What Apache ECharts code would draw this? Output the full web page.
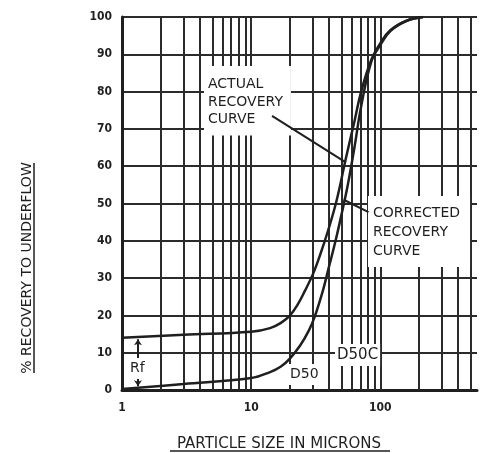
<!DOCTYPE html>
<html>
<head>
<meta charset="utf-8">
<script src="https://cdn.jsdelivr.net/npm/echarts@6/dist/echarts.min.js"></script>
<style>
  html, body { margin: 0; background: #fff; }
  #chart { width: 480px; height: 453px; }
</style>
</head>
<body>
<div id="chart"></div>
<script>
// 曲线数据
const actualX = [1, 3, 10, 14, 17, 20, 23, 26, 30, 34, 40, 46, 54, 63, 71, 85, 100, 120, 160, 214];
const actualY = [14, 14.8, 15.6, 16.6, 18, 20, 23, 26.5, 31, 36, 43.5, 51, 62, 72, 80, 88.5, 93, 96.5, 99, 100];

const correctedX = [1, 3, 10, 14, 17, 20, 24, 28, 31, 36, 40, 45, 50, 56, 63, 71, 85, 100, 120, 160, 214];
const correctedY = [0.3, 1.6, 3.2, 4.8, 6.3, 8.5, 12, 16, 19.6, 26.8, 33, 40, 47, 55, 65, 76, 88, 92.5, 96.3, 99, 100];

// 对数坐标纸的竖线
const xGridValues = [2, 3, 4, 5, 6, 7, 8, 9, 10, 20, 30, 40, 50, 60, 70, 80, 90, 100, 200, 300, 400, 500];
const xLabelValues = [1, 10, 100];

// 引线（数据坐标）
const actualLeader = [[14.5, 73.5], [54, 61]];
const correctedLeader = [[52, 51], [81, 47.7]];
const rfArrow = [[1.33, 13.6], [1.33, 1]];

const ink = '#1f1f1f';
const gridInk = '#2b2b2b';
const labelFont = '"DejaVu Sans Condensed", "DejaVu Sans", sans-serif';
const noteFont = '"DejaVu Sans", sans-serif';

const zip = (xs, ys) => xs.map((x, i) => [x, ys[i]]);

const chart = echarts.init(document.getElementById('chart'));

const noteText = (text, x, y, size, pad, lh, z) => ({
  type: 'text',
  x: x,
  y: y,
  z: z || 20,
  style: {
    text: text,
    font: size + 'px ' + noteFont,
    fill: ink,
    lineHeight: lh || size + 3,
    backgroundColor: '#fff',
    padding: pad
  }
});

const option = {
  animation: false,
  backgroundColor: '#fff',
  grid: { left: 122, top: 17, right: 0, bottom: 63 },
  xAxis: {
    type: 'log',
    logBase: 10,
    min: 1,
    max: 560,
    axisLine: { show: true, onZero: false, lineStyle: { color: ink, width: 3 } },
    axisTick: { show: false },
    splitLine: { show: false },
    axisLabel: {
      margin: 12,
      color: ink,
      fontSize: 12,
      fontWeight: 'bold',
      fontFamily: labelFont,
      formatter: (v) => {
        const r = Math.round(v);
        return xLabelValues.includes(r) ? String(r) : '';
      }
    }
  },
  yAxis: {
    type: 'value',
    min: 0,
    max: 100,
    interval: 10,
    axisLine: { show: true, lineStyle: { color: ink, width: 3 } },
    axisTick: { show: false },
    splitLine: { lineStyle: { color: gridInk, width: 2 } },
    axisLabel: {
      margin: 10,
      color: ink,
      fontSize: 12,
      fontWeight: 'bold',
      fontFamily: labelFont
    }
  },
  series: [
    {
      name: 'Actual',
      type: 'line',
      data: zip(actualX, actualY),
      showSymbol: false,
      smooth: 0.4,
      z: 3,
      lineStyle: { color: ink, width: 2.5 },
      markLine: {
        silent: true,
        symbol: 'none',
        z: 1,
        label: { show: false },
        lineStyle: { color: gridInk, width: 2, type: 'solid' },
        data: xGridValues.map((v) => ({ xAxis: v }))
      }
    },
    {
      name: 'Corrected',
      type: 'line',
      data: zip(correctedX, correctedY),
      showSymbol: false,
      smooth: 0.4,
      z: 3,
      lineStyle: { color: ink, width: 2.5 },
      markLine: {
        silent: true,
        symbol: 'none',
        z: 25,
        label: { show: false },
        lineStyle: { color: ink, width: 2, type: 'solid' },
        data: [
          [{ coord: actualLeader[0] }, { coord: actualLeader[1] }],
          [{ coord: correctedLeader[0] }, { coord: correctedLeader[1] }],
          [
            { coord: rfArrow[0], symbol: 'arrow', symbolSize: 6 },
            { coord: rfArrow[1], symbol: 'arrow', symbolSize: 6 }
          ]
        ]
      }
    }
  ],
  graphic: [
    noteText('ACTUAL\nRECOVERY\nCURVE', 204, 66, 14, [10, 8, 7, 4], 17.5),
    noteText('CORRECTED\nRECOVERY\nCURVE', 368, 196, 14, [8, 10, 6, 5], 19),
    noteText('D50C', 335, 344, 15, [2, 2, 2, 2]),
    noteText('D50', 289, 364, 14, [2, 1, 2, 1]),
    noteText('Rf', 129, 358, 14, [2, 1, 2, 1], null, 30),
    {
      type: 'text',
      x: 279,
      y: 444,
      z: 20,
      style: {
        text: 'PARTICLE SIZE IN MICRONS',
        font: '15px ' + noteFont,
        fill: ink,
        align: 'center',
        verticalAlign: 'middle'
      }
    },
    {
      type: 'line',
      z: 20,
      shape: { x1: 170, y1: 451, x2: 390, y2: 451 },
      style: { stroke: ink, lineWidth: 1.5 }
    },
    {
      type: 'text',
      x: 27,
      y: 268,
      rotation: Math.PI / 2,
      z: 20,
      style: {
        text: '% RECOVERY TO UNDERFLOW',
        font: '14px ' + noteFont,
        fill: ink,
        align: 'center',
        verticalAlign: 'middle'
      }
    },
    {
      type: 'line',
      z: 20,
      shape: { x1: 34, y1: 163, x2: 34, y2: 373 },
      style: { stroke: ink, lineWidth: 1.5 }
    }
  ]
};

chart.setOption(option);
</script>
</body>
</html>
